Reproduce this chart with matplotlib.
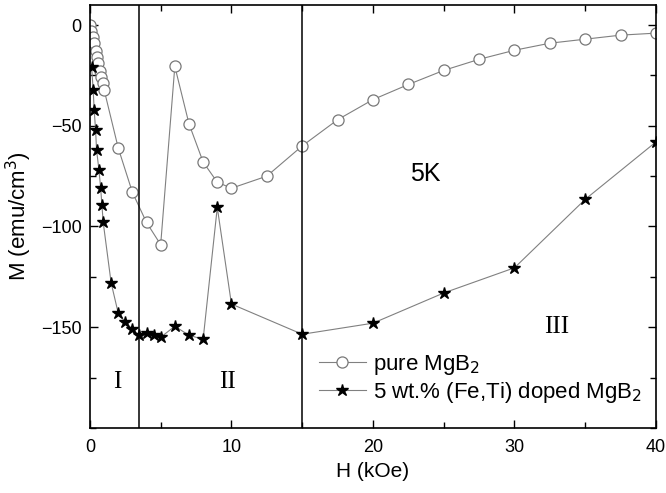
import matplotlib
matplotlib.use("Agg")
import matplotlib.pyplot as plt
from matplotlib.ticker import MultipleLocator

plt.rcParams['font.family'] = ['Liberation Sans', 'DejaVu Sans']

# magnetization loops at 5 K, field in kOe, M in emu/cm^3
h_pure = [0, 0.1, 0.2, 0.3, 0.4, 0.5, 0.6, 0.7, 0.8, 0.9, 1.0,
          2, 3, 4, 5, 6, 7, 8, 9, 10, 12.5, 15, 17.5, 20, 22.5,
          25, 27.5, 30, 32.5, 35, 37.5, 40]
m_pure = [0, -3, -6, -9, -13, -16, -19, -23, -26, -29, -32,
          -61, -83, -98, -109, -20.5, -49, -68, -78, -81, -75, -60, -47, -37, -29.5,
          -22.5, -17, -12.5, -9, -7, -5, -4]

h_doped = [0.12, 0.23, 0.3, 0.4, 0.47, 0.64, 0.76, 0.85, 0.94,
           1.5, 2, 2.5, 3, 3.5, 4, 4.5, 5, 6, 7, 8, 9, 10,
           15, 20, 25, 30, 35, 40]
m_doped = [-21, -32, -42, -52, -62, -72, -81, -89.5, -98,
           -128, -143, -147.5, -151, -154, -153, -154, -155, -149.5, -154, -156, -90.5, -138.5,
           -153.5, -148, -133, -120.5, -86.5, -58]

region_bounds = [3.5, 15]
region_labels = ['I', 'II', 'III']
region_pos = [(1.9, -177), (9.7, -177), (33, -150)]

fig = plt.figure(figsize=(6.66, 4.93), dpi=100)
ax = fig.add_axes([0.135, 0.132, 0.850, 0.858])

ax.plot(h_pure, m_pure, '-o', color='#808080', lw=0.8, ms=8,
        mfc='white', mec='#787878', mew=0.9, label='pure MgB$_2$')
ax.plot(h_doped, m_doped, '-*', color='#808080', lw=0.8, ms=9,
        mfc='black', mec='black', label='5 wt.% (Fe,Ti) doped MgB$_2$')

for b in region_bounds:
    ax.axvline(b, color='black', lw=1.1)

for lab, (x, y) in zip(region_labels, region_pos):
    ax.text(x, y, lab, ha='center', va='center', fontsize=18,
            family='Liberation Serif')
ax.text(23.7, -74, '5K', ha='center', va='center', fontsize=18)

ax.set_xlim(0, 40)
ax.set_ylim(-200, 10)
ax.xaxis.set_major_locator(MultipleLocator(10))
ax.xaxis.set_minor_locator(MultipleLocator(5))
ax.yaxis.set_major_locator(MultipleLocator(50))
ax.yaxis.set_minor_locator(MultipleLocator(25))
ax.set_yticks([0, -50, -100, -150])
ax.tick_params(which='both', direction='in', top=True, right=True, labelsize=13)
ax.tick_params(axis='x', pad=8)
ax.tick_params(axis='y', pad=6)
ax.tick_params(which='major', length=6, width=1)
ax.tick_params(which='minor', length=4, width=1)
for s in ax.spines.values():
    s.set_linewidth(1.2)

ax.set_xlabel('H (kOe)', fontsize=15, labelpad=4)
ax.set_ylabel('M (emu/cm$^3$)', fontsize=16, labelpad=5)

ax.legend(loc='lower left', bbox_to_anchor=(0.385, 0.028), frameon=False,
          fontsize=16, handlelength=2.1, handletextpad=0.35, labelspacing=0.15,
          borderpad=0)

fig.savefig('out.png', dpi=100)
